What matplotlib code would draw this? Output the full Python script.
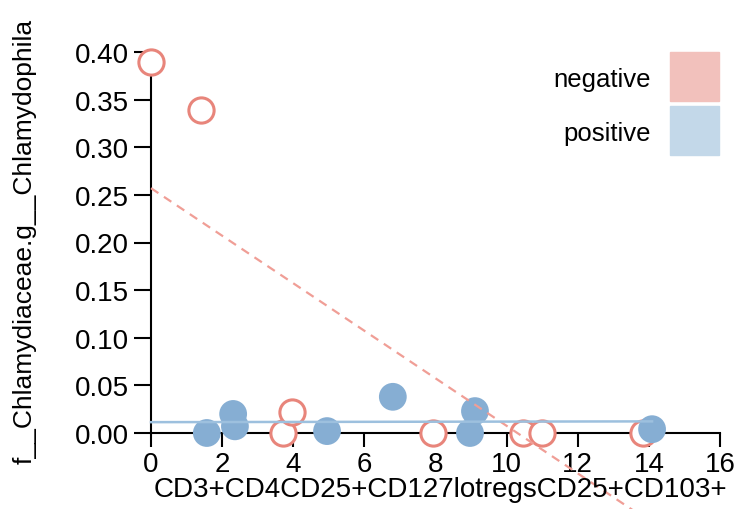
import numpy as np
import matplotlib
matplotlib.use("Agg")
import matplotlib.pyplot as plt
from matplotlib.patches import Rectangle

plt.rcParams["font.family"] = ["Liberation Sans", "DejaVu Sans"]

X_LABEL = "CD3+CD4CD25+CD127lotregsCD25+CD103+"
Y_LABEL = "f__Chlamydiaceae.g__Chlamydophila"

neg_x = [0.0, 1.4, 3.71, 3.97, 7.93, 10.46, 11.0, 13.84]
neg_y = [0.39, 0.339, 0.0, 0.022, 0.0, 0.0, 0.0, 0.0]
pos_x = [1.57, 2.31, 2.36, 4.95, 6.8, 8.97, 9.11, 14.09]
pos_y = [0.0, 0.02, 0.007, 0.002, 0.038, 0.0, 0.023, 0.004]

groups = ["negative", "positive"]
x_ticks = [0, 2, 4, 6, 8, 10, 12, 14, 16]
y_ticks = [0.0, 0.05, 0.10, 0.15, 0.20, 0.25, 0.30, 0.35, 0.40]

RED = "#e8857b"
BLUE = "#86aed3"
RED_LIGHT = "#f2c1bc"
BLUE_LIGHT = "#c3d8e9"

W, H = 738, 510
fig = plt.figure(figsize=(W / 100, H / 100), dpi=100)
ax = fig.add_axes([151 / W, 1 - 434 / H, (720 - 151) / W, (434 - 53) / H])

ax.scatter(neg_x, neg_y, s=330, facecolors="white", edgecolors=RED,
           linewidths=2.2, zorder=3, clip_on=False)
ax.scatter(pos_x, pos_y, s=400, color=BLUE, edgecolors="none",
           zorder=4, clip_on=False)

# fitted lines over the whole x range
x_all = np.array(neg_x + pos_x)
xs = np.array([x_all.min(), x_all.max()])
k, b = np.polyfit(neg_x, neg_y, 1)
ax.plot(xs, k * xs + b, color="#f09e96", lw=1.6, ls=(0, (4, 3)),
        zorder=5, clip_on=False)
k, b = np.polyfit(pos_x, pos_y, 1)
ax.plot(xs, k * xs + b, color="#9dc0de", lw=1.8, zorder=5, clip_on=False)

ax.set_xlim(0, 16)
ax.set_ylim(0, 0.4)
ax.set_xticks(x_ticks)
ax.set_xticklabels([str(t) for t in x_ticks])
ax.set_yticks(y_ticks)
ax.set_yticklabels(["%.2f" % t for t in y_ticks])
for s in ["top", "right"]:
    ax.spines[s].set_visible(False)
for s in ["left", "bottom"]:
    ax.spines[s].set_linewidth(1.5)
    ax.spines[s].set_zorder(1)
ax.tick_params(axis="x", length=10, width=1.5, pad=3, labelsize=20)
ax.tick_params(axis="y", length=12, width=1.5, pad=4, labelsize=20)

fig.text(440 / W, 1 - 490 / H, X_LABEL, ha="center", va="center", fontsize=20)
fig.text(25 / W, 1 - 241 / H, Y_LABEL, ha="center", va="center",
         rotation=90, fontsize=19)

# legend
for i, (name, col) in enumerate(zip(groups, [RED_LIGHT, BLUE_LIGHT])):
    top = 53 + i * 54
    fig.add_artist(Rectangle((670 / W, 1 - (top + 49) / H), 49 / W, 49 / H,
                             transform=fig.transFigure, color=col))
    fig.text(651 / W, 1 - (top + 24) / H, name, ha="right",
             va="center_baseline", fontsize=18.5)

fig.savefig("out.png", dpi=100)
